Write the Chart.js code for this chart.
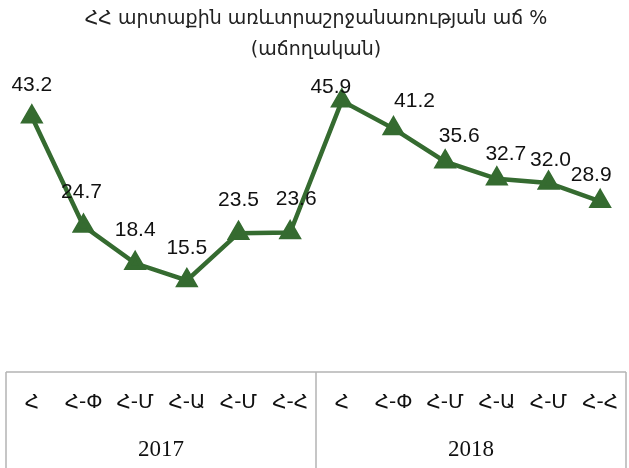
<!DOCTYPE html>
<html>
<head>
<meta charset="utf-8">
<script src="https://cdn.jsdelivr.net/npm/chart.js@4.4.1/dist/chart.umd.min.js"></script>
<style>
  html, body { margin: 0; padding: 0; background: #fff; }
  #wrap { width: 629px; height: 468px; }
</style>
</head>
<body>
<div id="wrap"><canvas id="graf"></canvas></div>
<script>
// tvyalner
const amisner = ['Հ', 'Հ-Փ', 'Հ-Մ', 'Հ-Ա', 'Հ-Մ', 'Հ-Հ', 'Հ', 'Հ-Փ', 'Հ-Մ', 'Հ-Ա', 'Հ-Մ', 'Հ-Հ'];
const tariner = ['2017', '2018'];
const ach = [43.2, 24.7, 18.4, 15.5, 23.5, 23.6, 45.9, 41.2, 35.6, 32.7, 32.0, 28.9];
const vernagir = ['ՀՀ արտաքին առևտրաշրջանառության աճ %', '(աճողական)'];

const kanach = '#356b30';
const gorshagun = '#b4b4b4';

// label nudges (dx, dy) so they sit like in the original
const shexum = [
    [0, -32], [-2, -34], [0, -33], [0, -32], [0, -33], [6, -33],
    [-11, -14], [21, -27], [14, -25], [9, -25], [2, -23], [-9, -26]
];

// arjeqneri grutyun
const tvyalPlugin = {
    id: 'tvyal',
    afterDatasetsDraw(chart) {
        const ctx = chart.ctx;
        const meta = chart.getDatasetMeta(0);
        ctx.save();
        ctx.font = '21px "Liberation Sans", Arial, sans-serif';
        ctx.fillStyle = '#111';
        ctx.textAlign = 'center';
        ctx.textBaseline = 'middle';
        meta.data.forEach((p, i) => {
            const s = shexum[i] || [0, -30];
            ctx.fillText(ach[i].toFixed(1), p.x + s[0], p.y + s[1]);
        });
        ctx.restore();
    }
};

// axyusak: amisner, tariner u gcer
const axyusakPlugin = {
    id: 'axyusak',
    afterDraw(chart) {
        const ctx = chart.ctx;
        const x = chart.scales.x;
        const area = chart.chartArea;
        const mej = (x.getPixelForTick(5) + x.getPixelForTick(6)) / 2;
        ctx.save();
        ctx.strokeStyle = gorshagun;
        ctx.lineWidth = 1.5;
        ctx.beginPath();
        ctx.moveTo(area.left, x.top);
        ctx.lineTo(area.right, x.top);
        [area.left, mej, area.right].forEach(px => {
            ctx.moveTo(px, x.top);
            ctx.lineTo(px, chart.height);
        });
        ctx.stroke();

        ctx.fillStyle = '#111';
        ctx.textAlign = 'center';
        ctx.textBaseline = 'middle';
        ctx.font = '20px "DejaVu Sans", sans-serif';
        amisner.forEach((a, i) => {
            ctx.fillText(a, x.getPixelForTick(i), x.top + 31);
        });
        ctx.font = '23px "Liberation Serif", serif';
        tariner.forEach((t, k) => {
            const skizb = x.getPixelForTick(k * 6);
            const verj = x.getPixelForTick(k * 6 + 5);
            ctx.fillText(t, (skizb + verj) / 2, x.top + 78);
        });
        ctx.restore();
    }
};

new Chart(document.getElementById('graf'), {
    type: 'line',
    data: {
        labels: amisner,
        datasets: [{
            data: ach,
            borderColor: kanach,
            backgroundColor: kanach,
            borderWidth: 4.5,
            pointStyle: 'triangle',
            pointRadius: 9,
            pointHoverRadius: 9,
            tension: 0
        }]
    },
    options: {
        responsive: true,
        maintainAspectRatio: false,
        animation: false,
        layout: { autoPadding: false, padding: { left: 6, right: 3, top: 4, bottom: 4 } },
        plugins: {
            legend: { display: false },
            tooltip: { enabled: false },
            title: {
                display: true,
                text: vernagir,
                color: '#222',
                font: { family: '"DejaVu Sans", sans-serif', size: 19, weight: 'normal', lineHeight: 1.6 },
                padding: { top: 0, bottom: 0 }
            }
        },
        scales: {
            y: {
                display: false,
                min: 0,
                max: 52
            },
            x: {
                offset: true,
                grid: { display: false, drawTicks: false },
                border: { display: false },
                ticks: { display: false },
                afterFit(scale) {
                    scale.height = 92;
                }
            }
        }
    },
    plugins: [tvyalPlugin, axyusakPlugin]
});
</script>
</body>
</html>
